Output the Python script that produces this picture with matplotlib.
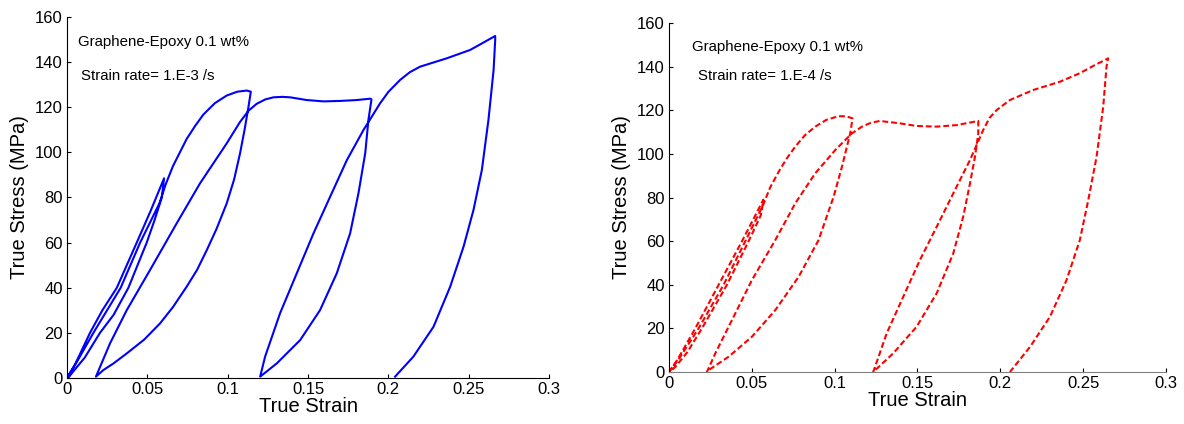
import matplotlib
matplotlib.use("Agg")
import matplotlib.pyplot as plt

plt.rcParams['font.family'] = ['Liberation Sans', 'DejaVu Sans']

# Left panel: strain rate 1E-3 /s (blue solid), one continuous cyclic path
strain_a = [0.0, 0.005, 0.0143, 0.022, 0.031, 0.0434, 0.052, 0.0604,
            0.059, 0.0545, 0.0496, 0.0382, 0.029, 0.0205, 0.011, 0.004, 0.001,
            0.0, 0.006, 0.0164, 0.0334, 0.0455, 0.0575, 0.0615, 0.066, 0.0745, 0.080,
            0.0849, 0.092, 0.0994, 0.106, 0.1119, 0.1144,
            0.1129, 0.1105, 0.1077, 0.104, 0.0994, 0.093, 0.087, 0.081, 0.0745, 0.066,
            0.0579, 0.048, 0.0372, 0.029, 0.0226, 0.018,
            0.0268, 0.0372, 0.0517, 0.0683, 0.0828, 0.0994, 0.1077, 0.113, 0.118, 0.1235,
            0.1285, 0.134, 0.1389, 0.1492, 0.1596, 0.1700, 0.1804, 0.1887, 0.1895,
            0.1876, 0.1856, 0.1814, 0.1762, 0.1679, 0.1575, 0.1451, 0.1306, 0.1202,
            0.1233, 0.1326, 0.1430, 0.1534, 0.1638, 0.1742, 0.1845, 0.1949, 0.200, 0.2073,
            0.2135, 0.2198, 0.2364, 0.2509, 0.258, 0.2665,
            0.2665, 0.2655, 0.2623, 0.2582, 0.2530, 0.2468, 0.2385, 0.2281, 0.2156, 0.2042]
stress_a = [0.0, 6.0, 20.0, 30.0, 40.0, 60.0, 74.0, 88.5,
            80.0, 70.0, 60.0, 40.0, 28.0, 20.0, 9.0, 3.0, 0.3,
            0.0, 7.0, 20.0, 40.0, 60.0, 77.4, 86.0, 94.0, 106.0, 112.0,
            116.8, 121.8, 125.2, 126.9, 127.4, 126.9,
            120.0, 110.0, 99.6, 88.0, 77.4, 66.0, 56.7, 48.0, 40.5, 31.5,
            24.2, 17.0, 10.9, 6.5, 3.5, 0.6,
            15.4, 30.1, 47.9, 68.6, 86.3, 104.0, 113.5, 118.5, 121.5, 123.5,
            124.4, 124.6, 124.4, 123.2, 122.6, 122.8, 123.2, 123.8, 123.5,
            114.4, 99.6, 81.9, 64.1, 46.4, 30.1, 16.8, 6.5, 0.6,
            9.5, 28.7, 46.4, 64.1, 80.4, 96.6, 109.9, 121.8, 126.8, 132.1,
            135.6, 138.0, 141.7, 145.4, 148.2, 151.6,
            149.8, 136.5, 114.4, 92.2, 74.5, 58.2, 40.5, 22.7, 9.5, 0.6]

# Right panel: strain rate 1E-4 /s (red dashed)
strain_b = [0.0, 0.005, 0.0159, 0.030, 0.0441, 0.057,
            0.0555, 0.0481, 0.035, 0.0199, 0.011, 0.004, 0.001,
            0.0, 0.006, 0.0179, 0.033, 0.0461, 0.0565, 0.061, 0.0662, 0.071, 0.0762, 0.082,
            0.0883, 0.095, 0.1024, 0.107, 0.1108,
            0.1094, 0.1044, 0.0994, 0.0903, 0.0783, 0.0642, 0.0501, 0.0360, 0.0240, 0.0229,
            0.0280, 0.0380, 0.0501, 0.0642, 0.0762, 0.0883, 0.1004, 0.1104, 0.1165, 0.122,
            0.1273, 0.1394, 0.1495, 0.1616, 0.1736, 0.1867,
            0.1867, 0.1847, 0.1817, 0.1776, 0.1716, 0.1616, 0.1495, 0.1354, 0.1233,
            0.1314, 0.1414, 0.1515, 0.1616, 0.1716, 0.1817, 0.1897, 0.1935, 0.1978, 0.2058,
            0.2199, 0.2360, 0.2480, 0.2565, 0.2651,
            0.2641, 0.2621, 0.2581, 0.2531, 0.2480, 0.2400, 0.2300, 0.2180, 0.2058]
stress_b = [0.0, 5.5, 20.0, 40.0, 60.0, 79.0,
            72.0, 60.0, 40.0, 20.0, 9.0, 2.5, 0.3,
            0.0, 6.0, 20.0, 40.0, 60.0, 76.0, 84.5, 91.8, 97.8, 103.3, 108.5,
            112.5, 115.6, 117.3, 117.2, 116.3,
            109.4, 94.1, 80.4, 60.5, 43.7, 28.4, 16.2, 7.0, 0.9, 0.0,
            8.6, 23.8, 42.2, 60.5, 77.3, 91.1, 101.8, 109.4, 112.5, 114.3,
            115.1, 114.0, 112.8, 112.5, 113.2, 115.1,
            109.4, 98.7, 86.5, 71.2, 54.4, 36.1, 20.8, 8.6, 0.0,
            17.7, 34.5, 51.4, 66.6, 81.9, 97.2, 111.0, 116.5, 120.1, 124.7,
            129.3, 133.1, 137.0, 140.5, 143.8,
            140.0, 121.6, 98.7, 78.9, 60.5, 42.2, 25.4, 11.6, 0.0]

x_ticks = [0, 0.05, 0.1, 0.15, 0.2, 0.25, 0.3]
x_ticklabels = ['0', '0.05', '0.1', '0.15', '0.2', '0.25', '0.3']
y_ticks = [0, 20, 40, 60, 80, 100, 120, 140, 160]

fig = plt.figure(figsize=(11.84, 4.24), dpi=100)
axA = fig.add_axes([0.0566, 0.1085, 0.4071, 0.8514])
axB = fig.add_axes([0.5650, 0.1226, 0.4198, 0.8231])

def style(ax, xcol):
    ax.set_xlim(0, 0.3)
    ax.set_ylim(0, 160)
    ax.set_xticks(x_ticks)
    ax.set_xticklabels(x_ticklabels)
    ax.set_yticks(y_ticks)
    ax.spines['top'].set_visible(False)
    ax.spines['right'].set_visible(False)
    ax.spines['left'].set_color('#000000')
    ax.spines['bottom'].set_color(xcol)
    ax.tick_params(direction='in', length=3, width=0.8, labelsize=12, colors='#000000', pad=3)
    ax.set_xlabel('True Strain', fontsize=14.5, labelpad=0)
    ax.set_ylabel('True Stress (MPa)', fontsize=14.5, labelpad=4)

axA.plot(strain_a, stress_a, color='#0000ff', lw=1.5, solid_joinstyle='round')
style(axA, '#000000')
axA.text(0.0068, 149, 'Graphene-Epoxy 0.1 wt%', fontsize=10.8, va='center', ha='left')
axA.text(0.0090, 134, 'Strain rate= 1.E-3 /s', fontsize=10.8, va='center', ha='left')

axB.plot(strain_b, stress_b, color='#ff0000', lw=1.5, linestyle=(0, (2.8, 1.4)))
style(axB, '#808080')
axB.text(0.0139, 149, 'Graphene-Epoxy 0.1 wt%', fontsize=10.8, va='center', ha='left')
axB.text(0.0175, 135.7, 'Strain rate= 1.E-4 /s', fontsize=10.8, va='center', ha='left')

fig.savefig('out.png', dpi=100)
